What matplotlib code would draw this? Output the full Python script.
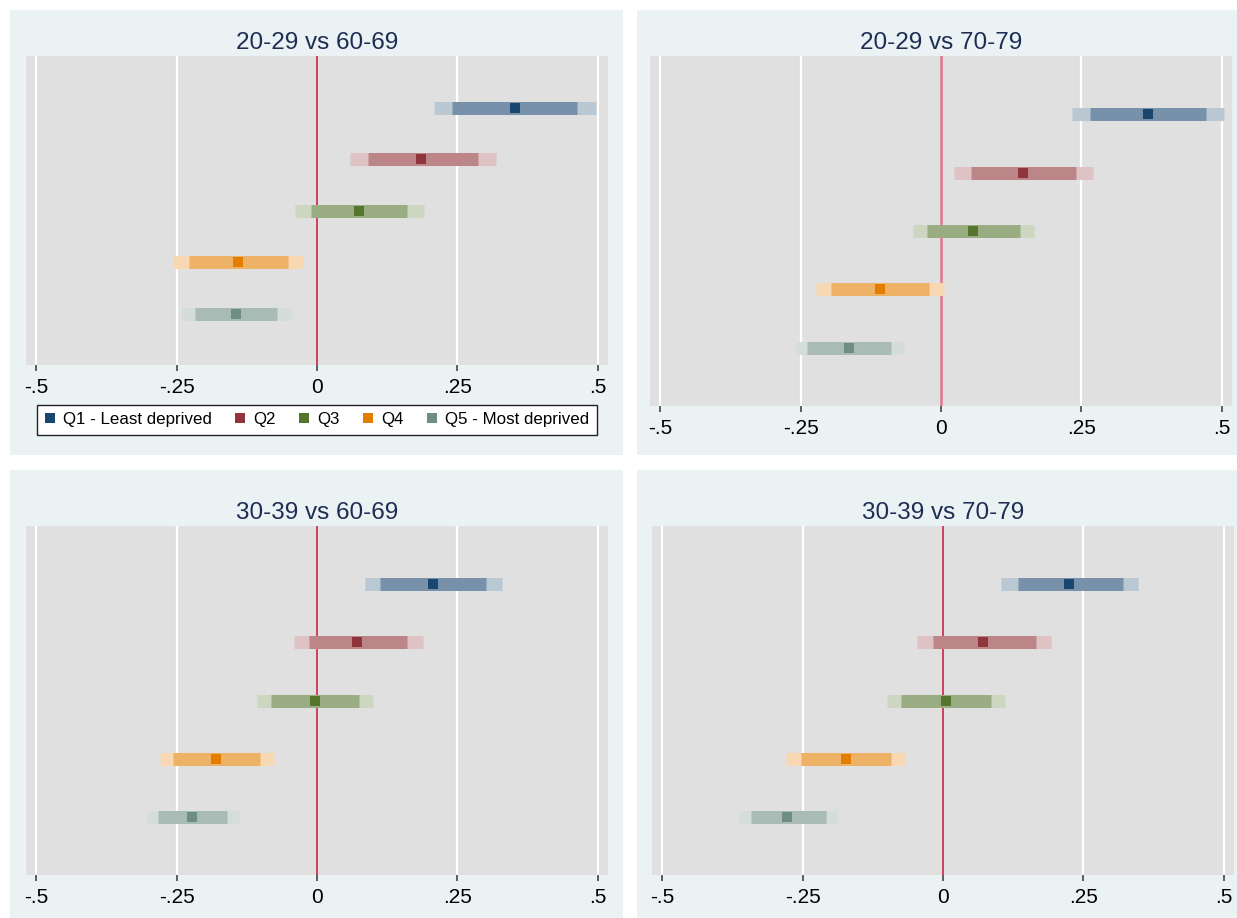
import numpy as np
import matplotlib
matplotlib.use('Agg')
import matplotlib.pyplot as plt
from matplotlib.colors import to_rgb
from matplotlib.patches import Rectangle

plt.rcParams['font.family'] = ['Liberation Sans', 'DejaVu Sans']

# Data
quintiles = ['Q1 - Least deprived', 'Q2', 'Q3', 'Q4', 'Q5 - Most deprived']
colors = ['#1a476f', '#90353b', '#55752f', '#e37e00', '#6e8e84']
titles = ['20-29 vs 60-69', '20-29 vs 70-79', '30-39 vs 60-69', '30-39 vs 70-79']

# point estimates per panel (Q1..Q5)
est_2029_6069 = [0.352, 0.186, 0.074, -0.141, -0.145]
est_2029_7079 = [0.368, 0.146, 0.057, -0.109, -0.164]
est_3039_6069 = [0.206, 0.072, -0.004, -0.180, -0.223]
est_3039_7079 = [0.225, 0.072, 0.005, -0.173, -0.277]

# inner interval (lo, hi)
inner_lo_2029_6069 = [0.241, 0.090, -0.011, -0.228, -0.218]
inner_hi_2029_6069 = [0.462, 0.286, 0.161, -0.052, -0.072]
inner_lo_2029_7079 = [0.266, 0.054, -0.025, -0.196, -0.238]
inner_hi_2029_7079 = [0.471, 0.241, 0.141, -0.021, -0.089]
inner_lo_3039_6069 = [0.113, -0.015, -0.081, -0.257, -0.283]
inner_hi_3039_6069 = [0.300, 0.160, 0.074, -0.102, -0.161]
inner_lo_3039_7079 = [0.133, -0.018, -0.075, -0.253, -0.342]
inner_hi_3039_7079 = [0.320, 0.165, 0.085, -0.093, -0.208]

# outer interval (lo, hi)
outer_lo_2029_6069 = [0.208, 0.058, -0.040, -0.257, -0.241]
outer_hi_2029_6069 = [0.496, 0.318, 0.190, -0.025, -0.047]
outer_lo_2029_7079 = [0.234, 0.023, -0.050, -0.223, -0.259]
outer_hi_2029_7079 = [0.504, 0.271, 0.166, 0.005, -0.066]
outer_lo_3039_6069 = [0.085, -0.041, -0.106, -0.280, -0.303]
outer_hi_3039_6069 = [0.329, 0.188, 0.099, -0.077, -0.139]
outer_lo_3039_7079 = [0.103, -0.047, -0.100, -0.279, -0.364]
outer_hi_3039_7079 = [0.348, 0.193, 0.110, -0.067, -0.189]

xticks = [-0.5, -0.25, 0, 0.25, 0.5]
xticklabels = ['-.5', '-.25', '0', '.25', '.5']

panels = [
    (est_2029_6069, inner_lo_2029_6069, inner_hi_2029_6069, outer_lo_2029_6069, outer_hi_2029_6069),
    (est_2029_7079, inner_lo_2029_7079, inner_hi_2029_7079, outer_lo_2029_7079, outer_hi_2029_7079),
    (est_3039_6069, inner_lo_3039_6069, inner_hi_3039_6069, outer_lo_3039_6069, outer_hi_3039_6069),
    (est_3039_7079, inner_lo_3039_7079, inner_hi_3039_7079, outer_lo_3039_7079, outer_hi_3039_7079),
]


def tint(c, k):
    # Stata-style colour intensity: mix towards white
    r = np.array(to_rgb(c))
    return tuple(1 - k * (1 - r))


W, H = 1237, 918
fig = plt.figure(figsize=(W / 100, H / 100), dpi=100, facecolor='white')

# panel backgrounds (pixels: x0, y0, x1, y1 from top-left)
bg_boxes = [(10, 10, 623, 455), (637, 10, 1237, 455),
            (10, 470, 623, 918), (637, 470, 1237, 918)]
for x0, y0, x1, y1 in bg_boxes:
    fig.patches.append(Rectangle((x0 / W, 1 - y1 / H), (x1 - x0) / W, (y1 - y0) / H,
                                 transform=fig.transFigure, facecolor='#eaf2f3',
                                 edgecolor='none', zorder=-10))

# plot areas (pixels)
ax_boxes = [(26, 56, 608, 365), (650, 56, 1232, 406),
            (26, 526, 608, 875), (652, 526, 1234, 875)]

rows = np.arange(1, 6)
bar_lw = 13 * 72 / 100
axes = []
for i, (x0, y0, x1, y1) in enumerate(ax_boxes):
    ax = fig.add_axes([x0 / W, 1 - y1 / H, (x1 - x0) / W, (y1 - y0) / H])
    ax.set_facecolor('#e0e0e0')
    est, ilo, ihi, olo, ohi = panels[i]

    for x in [-0.5, -0.25, 0.25, 0.5]:
        ax.axvline(x, color='white', lw=1.6, zorder=1)
    if i == 1:
        ax.axvline(0, color='#e0768f', lw=1.8, zorder=1.5)
    else:
        ax.axvline(0, color='#cc1440', lw=1.1, zorder=1.5)

    for j in range(5):
        ax.hlines(rows[j], olo[j], ohi[j], color=tint(colors[j], 0.3),
                  lw=bar_lw, capstyle='butt', zorder=2)
        ax.hlines(rows[j], ilo[j], ihi[j], color=tint(colors[j], 0.6),
                  lw=bar_lw, capstyle='butt', zorder=3)
        ax.plot(est[j], rows[j], 's', color=colors[j], ms=6.5, mew=0,
                zorder=4, label=quintiles[j])

    ax.set_xlim(-0.518, 0.518)
    ax.set_ylim(6, 0)
    ax.set_yticks([])
    ax.set_xticks(xticks)
    ax.set_xticklabels(xticklabels, fontsize=15)
    ax.tick_params(axis='x', direction='out', length=4.5, width=1.2,
                   color='#444444', pad=5)
    for s in ax.spines.values():
        s.set_visible(False)
    ax.set_title(titles[i], fontsize=17.5, color='#1e2d53', pad=5)
    axes.append(ax)

leg = axes[0].legend(loc='center', bbox_to_anchor=(0.019, -0.226, 0.962, 0.097),
                     mode='expand', ncol=5, fontsize=12.2, frameon=True,
                     fancybox=False, framealpha=1, edgecolor='#222222',
                     handlelength=0.6, handletextpad=0.5, borderpad=0.45,
                     borderaxespad=0, markerscale=1.0)
leg.get_frame().set_linewidth(1.0)

fig.savefig('out.png', dpi=100, facecolor='white')
